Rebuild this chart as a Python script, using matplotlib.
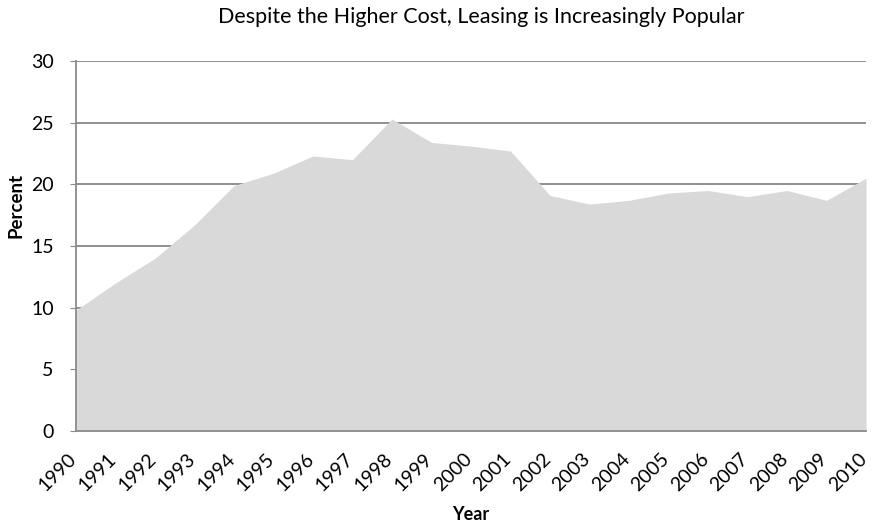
import matplotlib
matplotlib.use("Agg")
import matplotlib.pyplot as plt
from matplotlib.transforms import ScaledTranslation

years = list(range(1990, 2011))
percent = [9.8, 12.0, 14.0, 16.7, 19.9, 20.9, 22.3, 22.0, 25.3, 23.4, 23.1,
           22.7, 19.1, 18.4, 18.7, 19.3, 19.5, 19.0, 19.5, 18.7, 20.5]
yticks = [0, 5, 10, 15, 20, 25, 30]

plt.rcParams['font.family'] = ['Lato', 'DejaVu Sans']

fig = plt.figure(figsize=(8.73, 5.26), dpi=100)
ax = fig.add_axes([0.087, 0.1806, 0.905, 0.7034])

ax.fill_between(years, percent, 0, color='#d9d9d9', linewidth=0, zorder=2)

ax.set_xlim(years[0], years[-1])
ax.set_ylim(0, 30)
ax.set_yticks(yticks)
ax.set_yticklabels([str(v) for v in yticks], fontsize=14)
ax.set_xticks(years)

for v in yticks[1:]:
    ax.axhline(v, color='#878787', linewidth=1.3, zorder=1)

for side in ('top', 'right'):
    ax.spines[side].set_visible(False)
for side in ('left', 'bottom'):
    ax.spines[side].set_color('#8a8a8a')
    ax.spines[side].set_linewidth(1.3)
    ax.spines[side].set_zorder(3)

ax.tick_params(axis='y', length=4, color='#8a8a8a', pad=12)
ax.tick_params(axis='x', length=0, pad=14)

ax.set_xticklabels([str(y) for y in years], rotation=45, ha='right', va='top',
                   rotation_mode='anchor', fontsize=14)
# nudge the rotated year labels slightly left so the last one stays inside
shift = ScaledTranslation(-0.08, 0, fig.dpi_scale_trans)
for tick in ax.xaxis.get_major_ticks():
    tick.label1.set_transform(tick.label1.get_transform() + shift)

ax.set_ylabel('Percent', fontsize=13.5, fontweight='bold')
ax.yaxis.set_label_coords(-0.076, 0.61)
ax.set_xlabel('Year', fontsize=13, fontweight='bold')
ax.xaxis.set_label_coords(0.5, -0.227)
ax.xaxis.label.set_va('center')
ax.yaxis.label.set_va('center')
fig.text(0.551, 0.968, 'Despite the Higher Cost, Leasing is Increasingly Popular',
         ha='center', va='center', fontsize=15.5)

fig.savefig('out.png', dpi=100)
